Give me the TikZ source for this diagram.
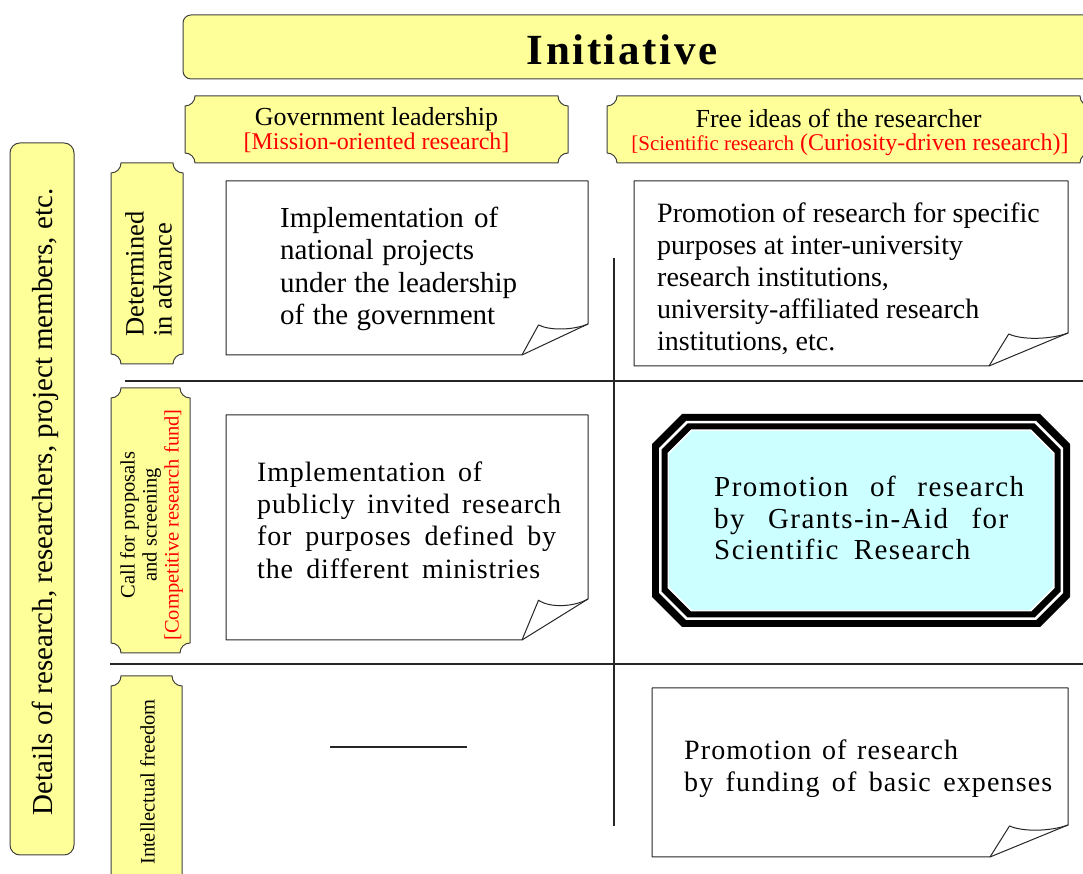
\documentclass[tikz,border=0pt]{standalone}
\usepackage{fontspec}
\setmainfont{Liberation Serif}
\usepackage{xcolor}
\usetikzlibrary{positioning}

\newcommand{\wl}[2]{\makebox[#1pt][s]{#2}}

\newcommand{\plaque}[4]{%
\path[draw=plaqueEdge,fill=plaqueFill,line width=1pt] ({#1+10},#2) -- ({#3-10},#2) .. controls ({#3-10},{#2+5.5}) and ({#3-5.5},{#2+10}) .. (#3,{#2+10}) -- (#3,{#4-10}) .. controls ({#3-5.5},{#4-10}) and ({#3-10},{#4-5.5}) .. ({#3-10},#4) -- ({#1+10},#4) .. controls ({#1+10},{#4-5.5}) and ({#1+5.5},{#4-10}) .. (#1,{#4-10}) -- (#1,{#2+10}) .. controls ({#1+5.5},{#2+10}) and ({#1+10},{#2+5.5}) .. ({#1+10},#2) -- cycle;}

\newcommand{\notepaper}[6]{%
\path[draw=drawColor,fill=white,line width=1pt,line join=round] (#1,#2) -- ({#3-#5},#2) -- (#3,{#2+#6}) -- (#3,#4) -- (#1,#4) -- cycle;
\path[draw=drawColor,line width=1pt,line join=round] ({#3-#5},#2) -- ({#3-0.75*#5},{#2+0.97*#6}) .. controls ({#3-0.58*#5},{#2+0.78*#6}) and ({#3-0.22*#5},{#2+0.8*#6}) .. (#3,{#2+#6});}

\newcommand{\octfill}[6]{%
\path[fill=#6] ({#1+#5},#2) -- ({#3-#5},#2) -- (#3,{#2+#5}) -- (#3,{#4-#5}) -- ({#3-#5},#4) -- ({#1+#5},#4) -- (#1,{#4-#5}) -- (#1,{#2+#5}) -- cycle;}

\begin{document}
\begin{tikzpicture}[x=1pt,y=1pt]
\definecolor{fillColor}{RGB}{255,255,255}
\path[use as bounding box,fill=fillColor] (0,0) rectangle (1083,874);
\definecolor{plaqueFill}{RGB}{255,255,153}
\definecolor{plaqueEdge}{gray}{0.25}
\definecolor{drawColor}{gray}{0.15}
\definecolor{gridCyan}{RGB}{204,255,255}
\definecolor{redText}{RGB}{255,0,0}

\path[draw=drawColor,line width=1.2pt] (125,493) -- (1083,493);

\path[draw=drawColor,line width=1.2pt] (110,210) -- (1083,210);

\path[draw=drawColor,line width=1.2pt] (614,616) -- (614,48);

\path[draw=drawColor,line width=1.2pt] (330,127) -- (467,127);

\path[draw=plaqueEdge,fill=plaqueFill,line width=1pt,rounded corners=8pt] (183,795) rectangle (1095,859);
\node[inner sep=0pt,font=\fontsize{43}{48}\selectfont\bfseries\addfontfeature{LetterSpace=6}] (initiative) at (622,824) {Initiative};

\plaque{185}{711}{568}{778}
\node[anchor=base,inner sep=0pt,font=\fontsize{26}{28}\selectfont] (govLead) at (376.5,748) {Government leadership};
\node[anchor=base,inner sep=0pt,font=\fontsize{24}{26}\selectfont,text=redText] (missionRes) at (376.5,724) {[Mission-oriented research]};

\plaque{607}{711}{1090}{778}
\node[anchor=base,inner sep=0pt,font=\fontsize{26}{28}\selectfont] (freeIdeas) at (838.5,746) {Free ideas of the researcher};
\node[anchor=base,inner sep=0pt,text=redText] (sciRes) at (850,723) {{\fontsize{21}{24}\selectfont[Scientific research}{\fontsize{24}{26}\selectfont{} (Curiosity-driven research)]}};

\path[draw=plaqueEdge,fill=plaqueFill,line width=1pt,rounded corners=10pt] (10,19) rectangle (74,731);
\node[rotate=90,inner sep=0pt,font=\fontsize{29}{32}\selectfont] (details) at (45,372) {Details of research, researchers, project members, etc.};

\plaque{111}{510}{183}{711}
\node[rotate=90,align=left,inner sep=0pt,font=\fontsize{26.5}{28}\selectfont] (inAdvance) at (148.5,600) {Determined\\in advance};

\plaque{111}{221}{190}{486}
\node[rotate=90,align=center,inner sep=0pt,font=\fontsize{20.5}{22}\selectfont] (callProp) at (151.5,349) {Call for proposals\\and screening\\\textcolor{redText}{[Competitive research fund]}};

\plaque{111}{-11}{182}{198}
\node[rotate=90,inner sep=0pt,font=\fontsize{20.5}{22}\selectfont] (freedom) at (147.5,92) {Intellectual freedom};

\notepaper{226}{519}{588}{693}{66}{31}
\node[anchor=west,align=left,inner sep=0pt,font=\fontsize{29}{32.3}\selectfont] (natProj) at (280,605) {\wl{218}{Implementation of}\\\wl{194}{national projects}\\\wl{237}{under the leadership}\\\wl{215}{of the government}};

\notepaper{634}{508}{1068}{693}{79}{33}
\node[anchor=west,align=left,inner sep=0pt,font=\fontsize{28}{32}\selectfont] (specPurp) at (657,595) {Promotion of research for specific\\purposes at inter-university\\research institutions,\\university-affiliated research\\institutions, etc.};

\notepaper{226}{234}{588}{459}{66}{41}
\node[anchor=west,align=left,inner sep=0pt,font=\fontsize{28}{32.3}\selectfont\addfontfeature{LetterSpace=3}] (publicInv) at (257,354) {\wl{225}{Implementation of}\\\wl{304}{publicly invited research}\\\wl{299}{for purposes defined by}\\\wl{283}{the different ministries}};

\octfill{652}{247}{1070}{460}{30}{black}
\octfill{659}{254}{1063}{453}{27}{white}
\octfill{661.5}{256.5}{1060.5}{450.5}{26}{black}
\octfill{667.5}{262.5}{1054.5}{444.5}{23.5}{white}
\octfill{669}{264}{1053}{443}{23}{gridCyan}
\node[anchor=west,align=left,inner sep=0pt,font=\fontsize{29}{31.5}\selectfont\addfontfeature{LetterSpace=5}] (grantsAid) at (714,356) {\wl{310}{Promotion of research}\\\wl{294}{by Grants-in-Aid for}\\\wl{256}{Scientific Research}};

\notepaper{652}{17}{1068}{186}{78}{32}
\node[anchor=west,align=left,inner sep=0pt,font=\fontsize{28}{32}\selectfont\addfontfeature{LetterSpace=4}] (basicExp) at (684,105) {\wl{274}{Promotion of research}\\\wl{368}{by funding of basic expenses}};
\end{tikzpicture}
\end{document}
